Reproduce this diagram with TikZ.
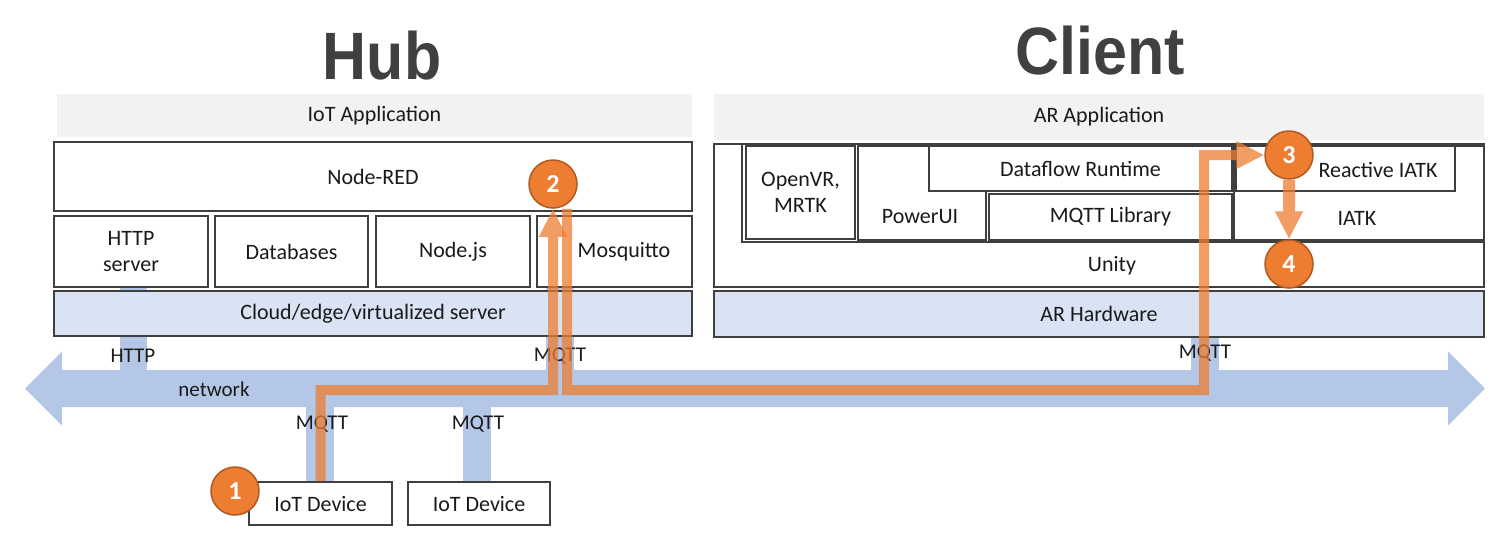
\documentclass[tikz,border=0pt]{standalone}
\usepackage{fontspec}
\setmainfont{Carlito}
\newfontfamily\titlefont{Liberation Sans}
\usetikzlibrary{arrows.meta}
\definecolor{boxline}{HTML}{3F3F3F}
\definecolor{barGray}{HTML}{F2F2F2}
\definecolor{hwBlue}{HTML}{DAE3F3}
\definecolor{netBlue}{HTML}{B4C7E7}
\definecolor{flowOrange}{HTML}{ED7D31}
\definecolor{circleEdge}{HTML}{AE5A21}
\definecolor{titleGray}{HTML}{404040}
\definecolor{txt}{HTML}{1A1A1A}
\begin{document}
\begin{tikzpicture}[x=1pt,y=-1pt,
  box/.style={draw=boxline, line width=1.8pt, fill=white, inner sep=0pt, align=center, text=txt, font=\fontsize{22}{26}\selectfont},
  bar/.style={fill=barGray, inner sep=0pt, text=txt, font=\fontsize{22}{26}\selectfont},
  hwbar/.style={box, fill=hwBlue},
  lbl/.style={inner sep=0pt, text=txt, font=\fontsize{22}{26}\selectfont, align=center},
  netlbl/.style={inner sep=0pt, text=txt, font=\fontsize{21}{24}\selectfont},
  stub/.style={fill=netBlue},
  badge/.style={circle, fill=flowOrange, draw=circleEdge, line width=1.5pt, minimum size=48pt, inner sep=0pt, text=white, font=\fontsize{26}{28}\selectfont\bfseries},
  flow/.style={draw=flowOrange, line width=10pt},
  flowtip/.style={-{Triangle[width=26pt,length=28pt]}},
  title/.style={inner sep=0pt, anchor=base, text=titleGray, font=\titlefont\bfseries\fontsize{67}{70}\selectfont},
]
\useasboundingbox (0,0) rectangle (1498,536);

% titles
\node[title] (hub) at (382,79) {\scalebox{0.91}[1]{Hub}};
\node[title] (client) at (1100,74) {\scalebox{0.91}[1]{Client}};

% network arrow and stubs
\fill[netBlue] (25,388.5) -- (62,351.5) -- (62,370) -- (1448,370) -- (1448,351.5) -- (1485,388.5)
  -- (1448,425.5) -- (1448,407) -- (62,407) -- (62,425.5) -- cycle;
\fill[stub] (120,287) rectangle (147,371);
\fill[stub] (546,287) rectangle (574,371);
\fill[stub] (1191,337) rectangle (1219,371);
\fill[stub] (306,406) rectangle (334,482);
\fill[stub] (463,406) rectangle (491,482);

% hub stack
\node[bar, minimum width=635pt, minimum height=43pt] (iotapp) at (374.5,115.5) {IoT Application};
\node[box, minimum width=638pt, minimum height=69pt] (nodered) at (373,176.5) {Node-RED};
\node[box, minimum width=154pt, minimum height=71pt] (http) at (131,251.5) {HTTP\\server};
\node[box, minimum width=153pt, minimum height=71pt] (db) at (291.5,251.5) {Databases};
\node[box, minimum width=154pt, minimum height=71pt] (nodejs) at (453,251.5) {Node.js};
\node[box, minimum width=155pt, minimum height=71pt] (mosq) at (614.5,251.5) {};
\node[lbl] (mosqtext) at (624,251.5) {Mosquitto};
\node[hwbar, minimum width=638pt, minimum height=45pt] (cloud) at (373,313.5) {Cloud/edge/virtualized server};

% client stack
\node[bar, minimum width=770pt, minimum height=46pt] (arapp) at (1099,117) {AR Application};
\node[box, minimum width=770pt, minimum height=143pt] (unity) at (1099,215.5) {};
\node[lbl] (unitytext) at (1112,266) {Unity};
\node[box, minimum width=742pt, minimum height=98pt] (libs) at (1113,193) {};
\node[box, minimum width=109pt, minimum height=93pt] (openvr) at (800.5,192.5) {OpenVR,\\MRTK};
\node[box, minimum width=128pt, minimum height=94pt] (powerui) at (922,193) {};
\node[lbl] (poweruitext) at (920,217) {PowerUI};
\node[box, minimum width=303pt, minimum height=45pt] (dataflow) at (1080.5,168.5) {Dataflow Runtime};
\node[box, minimum width=243pt, minimum height=46pt] (mqttlib) at (1110.5,217) {MQTT Library};
\node[box, minimum width=250pt, minimum height=94pt] (iatk) at (1359,193) {};
\node[lbl] (iatktext) at (1357,218) {IATK};
\node[box, minimum width=219pt, minimum height=45pt] (reactive) at (1345.5,168.5) {};
\node[lbl] (reactivetext) at (1378,170) {Reactive IATK};
\node[hwbar, minimum width=770pt, minimum height=46pt] (arhw) at (1099,314) {AR Hardware};

% devices
\node[box, minimum width=143pt, minimum height=43pt] (dev1) at (320.5,503.5) {IoT Device};
\node[box, minimum width=142pt, minimum height=43pt] (dev2) at (479,503.5) {IoT Device};

% network labels
\node[netlbl] (lhttp) at (133,356) {HTTP};
\node[netlbl] (lmqtthub) at (560,356) {MQTT};
\node[netlbl] (lmqttcl) at (1205,353) {MQTT};
\node[netlbl] (lnet) at (214,389) {network};
\node[netlbl] (lmqttd1) at (322,424) {MQTT};
\node[netlbl] (lmqttd2) at (478,424) {MQTT};

% badges
\node[badge] (c1) at (235,491) {1};
\node[badge] (c2) at (553,184) {2};
\node[badge] (c3) at (1289,155) {3};
\node[badge] (c4) at (1289,264) {4};

% flows
\coordinate (j1) at (553,390);
\coordinate (j2) at (1204,390);
\begin{scope}[transparency group, opacity=0.75]
\draw[flow, flowtip] (dev1.north) |- (j1) -- (c2.south);
\end{scope}
\begin{scope}[transparency group, opacity=0.75]
\draw[flow, flowtip] ([xshift=14pt]c2.south) |- (j2) |- (c3.west);
\end{scope}
\begin{scope}[transparency group, opacity=0.75]
\draw[flow, line width=12pt, flowtip] (c3.south) -- (c4.north);
\end{scope}
\end{tikzpicture}
\end{document}
